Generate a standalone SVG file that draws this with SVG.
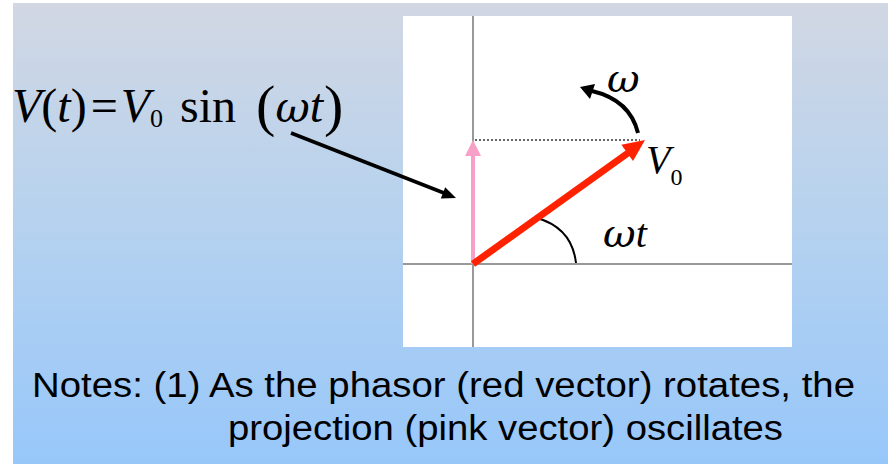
<svg xmlns="http://www.w3.org/2000/svg" width="888" height="466" viewBox="0 0 888 466">
<defs>
<linearGradient id="bg" x1="0" y1="0" x2="0" y2="1">
<stop offset="0" stop-color="#d1d7e3"/>
<stop offset="0.45" stop-color="#b7d2ee"/>
<stop offset="1" stop-color="#97c7fa"/>
</linearGradient>
<style>
.math{font-family:"Liberation Serif","Times New Roman",serif;fill:#000}
.it{font-style:italic}
.gr{font-family:"DejaVu Serif","Liberation Serif",serif;font-style:italic}
.note{font-family:"Liberation Sans",Arial,sans-serif;font-size:35px;fill:#000}
.axis{stroke:#999;stroke-width:2;fill:none}
</style>
</defs>
<rect x="0" y="0" width="888" height="466" fill="#ffffff"/>
<rect x="13" y="3" width="875" height="461" fill="url(#bg)"/>
<g id="panel">
<rect x="403" y="16" width="389" height="331" fill="#ffffff"/>
<line class="axis" x1="473" y1="16" x2="473" y2="347"/>
<line class="axis" x1="403" y1="264" x2="792" y2="264"/>
</g>
<g id="equation">
<text class="math" x="12" y="122" font-size="48"><tspan class="it">V</tspan>(<tspan class="it">t</tspan>)<tspan dx="4">=</tspan><tspan dx="3" class="it">V</tspan><tspan font-size="26" dy="5">0</tspan><tspan dx="17" dy="-5">sin</tspan><tspan dx="20" font-size="58" dy="3">(</tspan><tspan class="gr" font-size="42" dy="-3">ω</tspan><tspan class="it">t</tspan><tspan font-size="58" dy="3" dx="1">)</tspan></text>
</g>
<g id="connectors">
<line x1="475" y1="140" x2="640" y2="140" stroke="#333" stroke-width="1.6" stroke-dasharray="2,2"/>
<line x1="291" y1="133" x2="444" y2="193" stroke="#000" stroke-width="3.5"/>
<polygon points="456,198 440.8,198.5 445.2,187.3" fill="#000"/>
<path d="M 537 218 Q 572 228 576 263" fill="none" stroke="#000" stroke-width="2"/>
<path d="M 638 133 Q 630 100 592 91" fill="none" stroke="#000" stroke-width="4"/>
<polygon points="580,87 595,84 590,99" fill="#000"/>
</g>
<g id="pink-vector">
<line x1="473" y1="264" x2="473" y2="154" stroke="#f8a0c8" stroke-width="4"/>
<polygon points="473,140 465,156 481,156" fill="#f8a0c8"/>
</g>
<g id="red-vector">
<line x1="473" y1="264" x2="628" y2="153" stroke="#ff2200" stroke-width="7"/>
<polygon points="645,140 633,161 621.4,144.8" fill="#ff2200"/>
</g>
<g id="labels" class="math">
<text x="607" y="92" font-size="40" class="gr">ω</text>
<text x="646" y="173" font-size="40"><tspan class="it">V</tspan><tspan font-size="24" dy="12">0</tspan></text>
<text x="603" y="247" font-size="40"><tspan class="gr" font-size="40">ω</tspan><tspan class="it">t</tspan></text>
</g>
<g id="notes">
<text class="note" x="32" y="397" textLength="823" lengthAdjust="spacingAndGlyphs">Notes: (1) As the phasor (red vector) rotates, the</text>
<text class="note" x="228" y="440" textLength="555" lengthAdjust="spacingAndGlyphs">projection (pink vector) oscillates</text>
</g>
</svg>
